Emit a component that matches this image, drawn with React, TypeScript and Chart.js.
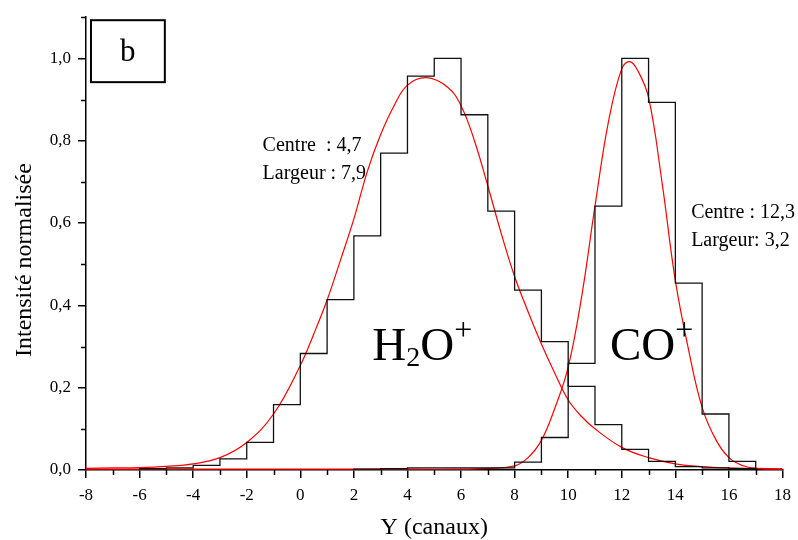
import React, { useEffect, useRef } from 'react';
import { Chart, registerables } from 'chart.js';

Chart.register(...registerables);

// ---- Data ----
// Histogram bins (left edges, width 1) and normalised heights
const H2O_BIN_LEFT = [-6, -5, -4, -3, -2, -1, 0, 1, 2, 3, 4, 5, 6, 7, 8, 9, 10, 11, 12, 13, 14, 15, 16];
const H2O_BIN_VALUE = [0.003, 0.005, 0.011, 0.027, 0.067, 0.159, 0.283, 0.414, 0.569, 0.77, 0.957, 1.0, 0.863, 0.629, 0.437, 0.312, 0.203, 0.11, 0.05, 0.021, 0.008, 0.005, 0.003];

const CO_BIN_LEFT = [2, 3, 4, 5, 6, 7, 8, 9, 10, 11, 12, 13, 14, 15, 16];
const CO_BIN_VALUE = [0.002, 0.003, 0.005, 0.005, 0.005, 0.005, 0.019, 0.079, 0.259, 0.641, 1.0, 0.893, 0.454, 0.136, 0.021];

// Fitted curves
const H2O_FIT_X = [-8, -7, -6, -5, -4, -3, -2, -1, 0, 0.5, 1, 1.5, 2, 2.5, 3, 3.5, 4, 4.7, 5.5, 6, 6.5, 7, 7.5, 8, 8.5, 9, 9.5, 10, 10.5, 11, 12, 13, 14, 15, 16, 17, 18];
const H2O_FIT_Y = [0.004, 0.005, 0.006, 0.009, 0.015, 0.03, 0.067, 0.136, 0.254, 0.33, 0.413, 0.51, 0.61, 0.725, 0.815, 0.885, 0.935, 0.953, 0.93, 0.885, 0.8, 0.69, 0.575, 0.47, 0.385, 0.306, 0.235, 0.17, 0.13, 0.1, 0.055, 0.03, 0.015, 0.008, 0.005, 0.004, 0.003];

const CO_FIT_X = [-8, -4, 0, 4, 6, 7, 8, 8.5, 9, 9.5, 10, 10.5, 11, 11.5, 12, 12.3, 12.6, 13, 13.5, 14, 14.5, 15, 15.5, 16, 16.5, 17, 18];
const CO_FIT_Y = [0.002, 0.002, 0.002, 0.002, 0.002, 0.004, 0.01, 0.03, 0.072, 0.15, 0.25, 0.42, 0.641, 0.845, 0.975, 0.992, 0.97, 0.905, 0.7, 0.46, 0.29, 0.152, 0.075, 0.03, 0.011, 0.004, 0.002];

// Axes
const X_MAJOR_TICKS = [-8, -6, -4, -2, 0, 2, 4, 6, 8, 10, 12, 14, 16, 18];
const X_MINOR_TICKS = [-7, -5, -3, -1, 1, 3, 5, 7, 9, 11, 13, 15, 17];
const Y_MAJOR_TICKS = [0, 0.2, 0.4, 0.6, 0.8, 1.0];
const Y_MINOR_TICKS = [0.1, 0.3, 0.5, 0.7, 0.9, 1.1];

const X_TITLE = 'Y (canaux)';
const Y_TITLE = 'Intensité normalisée';
const PANEL_LABEL = 'b';
const H2O_FIT_TEXT = ['Centre  : 4,7', 'Largeur : 7,9'];
const CO_FIT_TEXT = ['Centre : 12,3', 'Largeur: 3,2'];

const FONT = "'Liberation Serif', 'Times New Roman', Times, serif";

function histogramPoints(lefts: number[], values: number[]) {
  // stepped 'before': each point's value is held from its x to the next x
  const pts: { x: number; y: number }[] = [{ x: lefts[0], y: 0 }];
  lefts.forEach((l, i) => pts.push({ x: l, y: values[i] }));
  const end = lefts[lefts.length - 1] + 1;
  pts.push({ x: end, y: values[values.length - 1] });
  pts.push({ x: end, y: 0 });
  return pts;
}

function curvePoints(xs: number[], ys: number[]) {
  return xs.map((x, i) => ({ x, y: ys[i] }));
}

const minorTicksPlugin = {
  id: 'minorTicks',
  afterDraw(chart: any) {
    const { ctx } = chart;
    const x = chart.scales.x;
    const y = chart.scales.y;
    ctx.save();
    ctx.strokeStyle = '#000';
    ctx.lineWidth = 1.5;
    X_MINOR_TICKS.forEach((v) => {
      const px = Math.round(x.getPixelForValue(v)) + 0.5;
      ctx.beginPath();
      ctx.moveTo(px, y.bottom);
      ctx.lineTo(px, y.bottom + 5);
      ctx.stroke();
    });
    Y_MINOR_TICKS.forEach((v) => {
      const py = Math.round(y.getPixelForValue(v)) + 0.5;
      ctx.beginPath();
      ctx.moveTo(x.left, py);
      ctx.lineTo(x.left - 5, py);
      ctx.stroke();
    });
    ctx.restore();
  },
};

const annotationPlugin = {
  id: 'annotations',
  afterDraw(chart: any) {
    const { ctx } = chart;
    const x = chart.scales.x;
    const y = chart.scales.y;
    const X = (v: number) => x.getPixelForValue(v);
    const Y = (v: number) => y.getPixelForValue(v);
    ctx.save();
    ctx.fillStyle = '#000';
    ctx.strokeStyle = '#000';
    ctx.textBaseline = 'alphabetic';
    ctx.textAlign = 'left';

    // y axis title (rotated), centred a little below the plot's middle as in the reference
    ctx.save();
    ctx.translate(y.left + 25, Y(0.51));
    ctx.rotate(-Math.PI / 2);
    ctx.font = `24px ${FONT}`;
    ctx.textAlign = 'center';
    ctx.textBaseline = 'middle';
    ctx.fillText(Y_TITLE, 0, 0);
    ctx.restore();

    // panel label box
    const bx0 = X(-7.814), bx1 = X(-5.057), by0 = Y(1.0927), by1 = Y(0.9422);
    ctx.lineWidth = 2;
    ctx.fillStyle = '#fff';
    ctx.fillRect(bx0, by0, bx1 - bx0, by1 - by0);
    ctx.strokeRect(bx0, by0, bx1 - bx0, by1 - by0);
    ctx.fillStyle = '#000';
    ctx.font = `31px ${FONT}`;
    ctx.textAlign = 'center';
    ctx.fillText(PANEL_LABEL, X(-6.44), Y(0.9934));
    ctx.textAlign = 'left';

    // fit parameter texts
    ctx.font = `20px ${FONT}`;
    ctx.fillText(H2O_FIT_TEXT[0], X(-1.407), Y(0.7754));
    ctx.fillText(H2O_FIT_TEXT[1], X(-1.407), Y(0.7068));
    ctx.fillText(CO_FIT_TEXT[0], X(14.59), Y(0.613));
    ctx.fillText(CO_FIT_TEXT[1], X(14.59), Y(0.545));

    // species labels with sub/superscripts
    const drawParts = (parts: { t: string; size: number; dy: number }[], x0: number, base: number) => {
      let cx = x0;
      parts.forEach((p) => {
        ctx.font = `${p.size}px ${FONT}`;
        ctx.fillText(p.t, cx, base + p.dy);
        cx += ctx.measureText(p.t).width;
      });
    };
    const base = Y(0.2665);
    drawParts(
      [
        { t: 'H', size: 47, dy: 0 },
        { t: '2', size: 28, dy: 6 },
        { t: 'O', size: 47, dy: 0 },
        { t: '+', size: 32, dy: -20 },
      ],
      X(2.69),
      base
    );
    drawParts(
      [
        { t: 'CO', size: 47, dy: 0 },
        { t: '+', size: 32, dy: -20 },
      ],
      X(11.556),
      base
    );
    ctx.restore();
  },
};

export default function App() {
  const canvasRef = useRef<HTMLCanvasElement | null>(null);

  useEffect(() => {
    if (!canvasRef.current) return;
    const chart = new Chart(canvasRef.current, {
      type: 'line',
      data: {
        datasets: [
          {
            label: 'H2O+ histogram',
            data: histogramPoints(H2O_BIN_LEFT, H2O_BIN_VALUE),
            stepped: 'before',
            borderColor: '#111',
            borderWidth: 1.3,
            pointRadius: 0,
            fill: false,
          },
          {
            label: 'CO+ histogram',
            data: histogramPoints(CO_BIN_LEFT, CO_BIN_VALUE),
            stepped: 'before',
            borderColor: '#111',
            borderWidth: 1.3,
            pointRadius: 0,
            fill: false,
          },
          {
            label: 'H2O+ fit',
            data: curvePoints(H2O_FIT_X, H2O_FIT_Y),
            borderColor: '#ff0000',
            borderWidth: 1.2,
            pointRadius: 0,
            tension: 0.4,
            fill: false,
          },
          {
            label: 'CO+ fit',
            data: curvePoints(CO_FIT_X, CO_FIT_Y),
            borderColor: '#ff0000',
            borderWidth: 1.2,
            pointRadius: 0,
            tension: 0.4,
            fill: false,
          },
        ],
      },
      options: {
        responsive: false,
        animation: false,
        parsing: false,
        layout: { padding: { left: 0, right: 14, top: 16, bottom: 0 } },
        plugins: { legend: { display: false }, tooltip: { enabled: false } },
        scales: {
          x: {
            type: 'linear',
            min: -8,
            max: 18,
            border: { display: true, color: '#000', width: 1.5 },
            grid: { drawOnChartArea: false, drawTicks: true, tickLength: 8, color: '#000', tickColor: '#000', lineWidth: 1.5, tickWidth: 1.5 },
            ticks: {
              color: '#000',
              font: { family: FONT, size: 17 },
              padding: 7,
              maxRotation: 0,
              autoSkip: false,
              callback: (v: any) => String(v),
            },
            afterBuildTicks: (s: any) => {
              s.ticks = X_MAJOR_TICKS.map((v) => ({ value: v }));
            },
            afterFit: (s: any) => {
              s.height = 70;
            },
            title: {
              display: true,
              text: X_TITLE,
              color: '#000',
              font: { family: FONT, size: 24, lineHeight: 1 },
              padding: { top: 0, bottom: 0 },
            },
          },
          y: {
            type: 'linear',
            min: 0,
            max: 1.1,
            border: { display: true, color: '#000', width: 1.5 },
            grid: { drawOnChartArea: false, drawTicks: true, tickLength: 8, color: '#000', tickColor: '#000', lineWidth: 1.5, tickWidth: 1.5 },
            ticks: {
              color: '#000',
              font: { family: FONT, size: 17 },
              padding: 7,
              autoSkip: false,
              callback: (v: any) => Number(v).toFixed(1).replace('.', ','),
            },
            afterBuildTicks: (s: any) => {
              s.ticks = Y_MAJOR_TICKS.map((v) => ({ value: v }));
            },
            afterFit: (s: any) => {
              s.width = 86;
            },
            title: { display: false },
          },
        },
      },
      plugins: [minorTicksPlugin, annotationPlugin],
    } as any);
    return () => chart.destroy();
  }, []);

  return (
    <div style={{ position: 'absolute', left: 0, top: 0, width: 798, height: 540, background: '#fff' }}>
      <canvas ref={canvasRef} width={798} height={540} style={{ display: 'block' }} />
    </div>
  );
}
